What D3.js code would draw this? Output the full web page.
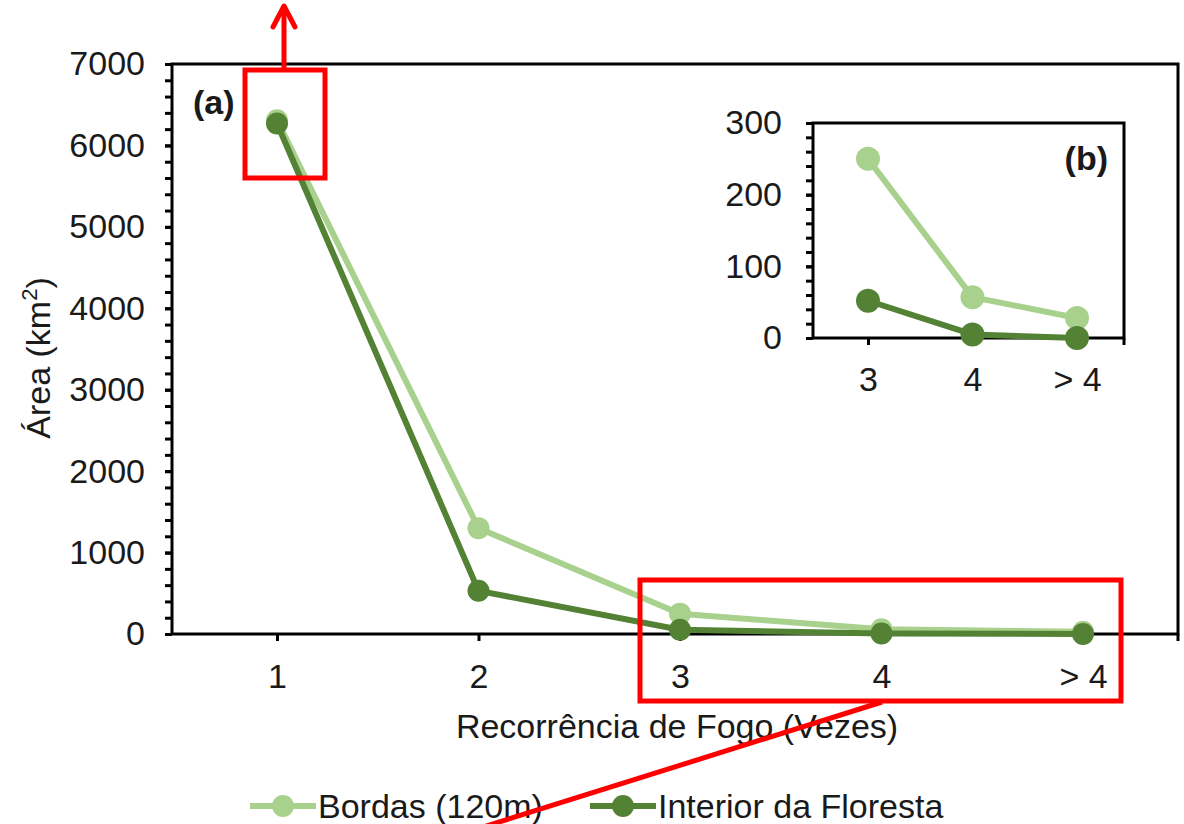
<!DOCTYPE html>
<html><head><meta charset="utf-8">
<script src="https://cdn.jsdelivr.net/npm/d3@7"></script>
<style>
body{margin:0;background:#fff;}
svg text{font-family:"Liberation Sans",Arial,sans-serif;fill:#1a1a1a;}
</style></head>
<body><svg id="c" width="1184" height="824"></svg>
<script>
const categories = ["1","2","3","4","> 4"];
const bordas = [6310, 1300, 250, 57, 28];
const interior = [6270, 530, 52, 5, 0];
const yTicks = [0,1000,2000,3000,4000,5000,6000,7000];
const insetCategories = ["3","4","> 4"];
const insetBordas = [250, 57, 28];
const insetInterior = [52, 5, 0];
const insetTicks = [0,100,200,300];
const seriesNames = ["Bordas (120m)","Interior da Floresta"];
const colors = ["#a9d18e","#548235"];

const svg = d3.select("#c");
const FS = 34;
const fmt = d3.format("d");

const x = d3.scalePoint().domain(categories).range([277,1083]);
const y = d3.scaleLinear().domain([0,7000]).range([634,64]);
const L=172,R=1178,T=64,B=634;

const g = svg.append("g");
g.append("g").attr("transform",`translate(${L},0)`)
 .call(d3.axisLeft(y).tickValues(d3.range(0,7001,200)).tickSize(7).tickFormat(""))
 .call(a=>a.select(".domain").remove())
 .call(a=>a.selectAll("line").attr("stroke","#000").attr("stroke-width",3));
g.append("g").attr("transform",`translate(${L},0)`)
 .call(d3.axisLeft(y).tickValues(yTicks).tickSize(7).tickPadding(20).tickFormat(fmt))
 .call(a=>a.select(".domain").remove())
 .call(a=>a.selectAll("line").attr("stroke","#000").attr("stroke-width",3))
 .call(a=>a.selectAll("text").attr("font-size",FS).attr("fill","#1a1a1a").attr("font-family","Liberation Sans, Arial, sans-serif"));
g.append("g").attr("transform",`translate(0,${B})`)
 .call(d3.axisBottom(x).tickSize(7).tickPadding(23))
 .call(a=>a.select(".domain").remove())
 .call(a=>a.selectAll("line").attr("stroke","#000").attr("stroke-width",3))
 .call(a=>a.selectAll("text").attr("font-size",FS).attr("fill","#1a1a1a").attr("font-family","Liberation Sans, Arial, sans-serif"));
g.append("line").attr("x1",R).attr("x2",R).attr("y1",B).attr("y2",B+7).attr("stroke","#000").attr("stroke-width",3);
g.append("rect").attr("x",L).attr("y",T).attr("width",R-L).attr("height",B-T)
 .attr("fill","none").attr("stroke","#000").attr("stroke-width",3);

function drawSeries(grp, xs, ys, cats, vals, color, r, w){
  const line = d3.line().x((d,i)=>xs(cats[i])).y(d=>ys(d));
  grp.append("path").datum(vals).attr("d",line).attr("fill","none")
    .attr("stroke",color).attr("stroke-width",w).attr("stroke-linejoin","round");
  grp.selectAll(null).data(vals).enter().append("circle")
    .attr("cx",(d,i)=>xs(cats[i])).attr("cy",d=>ys(d)).attr("r",r).attr("fill",color);
}
drawSeries(svg.append("g"), x, y, categories, bordas, colors[0], 11, 6);
drawSeries(svg.append("g"), x, y, categories, interior, colors[1], 11, 6);

svg.append("text").attr("x",193).attr("y",114).attr("font-size",FS).attr("font-weight","bold").text("(a)");

svg.append("text").attr("x",(L+R)/2+2).attr("y",738).attr("text-anchor","middle").attr("font-size",FS).text("Recorrência de Fogo (Vezes)");
const yt = svg.append("text").attr("transform","translate(50,358) rotate(-90)").attr("text-anchor","middle").attr("font-size",FS);
yt.append("tspan").text("Área (km");
yt.append("tspan").attr("font-size",FS*0.65).attr("dy",-13).text("2");
yt.append("tspan").attr("dy",13).text(")");

const iL=813,iR=1124,iT=123,iB=338;
const ix = d3.scalePoint().domain(insetCategories).range([868,1077]);
const iy = d3.scaleLinear().domain([0,300]).range([iB,iT]);
const ig = svg.append("g");
ig.append("rect").attr("x",iL).attr("y",iT).attr("width",iR-iL).attr("height",iB-iT).attr("fill","#fff");
ig.append("g").attr("transform",`translate(${iL},0)`)
 .call(d3.axisLeft(iy).tickValues(d3.range(0,301,20)).tickSize(7).tickFormat(""))
 .call(a=>a.select(".domain").remove())
 .call(a=>a.selectAll("line").attr("stroke","#000").attr("stroke-width",3));
ig.append("g").attr("transform",`translate(${iL},0)`)
 .call(d3.axisLeft(iy).tickValues(insetTicks).tickSize(7).tickPadding(24).tickFormat(fmt))
 .call(a=>a.select(".domain").remove())
 .call(a=>a.selectAll("line").attr("stroke","#000").attr("stroke-width",3))
 .call(a=>a.selectAll("text").attr("font-size",FS).attr("fill","#1a1a1a").attr("font-family","Liberation Sans, Arial, sans-serif"));
ig.append("g").attr("transform",`translate(0,${iB})`)
 .call(d3.axisBottom(ix).tickSize(7).tickPadding(22))
 .call(a=>a.select(".domain").remove())
 .call(a=>a.selectAll("line").attr("stroke","#000").attr("stroke-width",3))
 .call(a=>a.selectAll("text").attr("font-size",FS).attr("fill","#1a1a1a").attr("font-family","Liberation Sans, Arial, sans-serif"));
ig.append("line").attr("x1",iR).attr("x2",iR).attr("y1",iB).attr("y2",iB+7).attr("stroke","#000").attr("stroke-width",3);
ig.append("rect").attr("x",iL).attr("y",iT).attr("width",iR-iL).attr("height",iB-iT)
 .attr("fill","none").attr("stroke","#000").attr("stroke-width",3);
drawSeries(ig, ix, iy, insetCategories, insetBordas, colors[0], 12, 6);
drawSeries(ig, ix, iy, insetCategories, insetInterior, colors[1], 12, 6);
svg.append("text").attr("x",1108).attr("y",170).attr("text-anchor","end").attr("font-size",FS).attr("font-weight","bold").text("(b)");

const lg = svg.append("g");
const legX = [250, 590];
seriesNames.forEach((n,i)=>{
  const lx = legX[i], ly = 806;
  lg.append("line").attr("x1",lx).attr("x2",lx+66).attr("y1",ly).attr("y2",ly).attr("stroke",colors[i]).attr("stroke-width",6);
  lg.append("circle").attr("cx",lx+33).attr("cy",ly).attr("r",11).attr("fill",colors[i]);
  lg.append("text").attr("x",lx+68).attr("y",ly+12).attr("font-size",FS).text(n);
});

const red = svg.append("g").attr("fill","none").attr("stroke","#ff0000").attr("stroke-width",5);
red.append("rect").attr("x",245).attr("y",70).attr("width",80).attr("height",108);
red.append("line").attr("x1",284).attr("x2",284).attr("y1",70).attr("y2",6);
red.append("path").attr("d","M273,27 L284,6 L295,27").attr("stroke-linecap","round").attr("stroke-linejoin","round");
red.append("rect").attr("x",640).attr("y",580).attr("width",481).attr("height",121);
red.append("line").attr("x1",882).attr("y1",702).attr("x2",480).attr("y2",828);
</script></body></html>
